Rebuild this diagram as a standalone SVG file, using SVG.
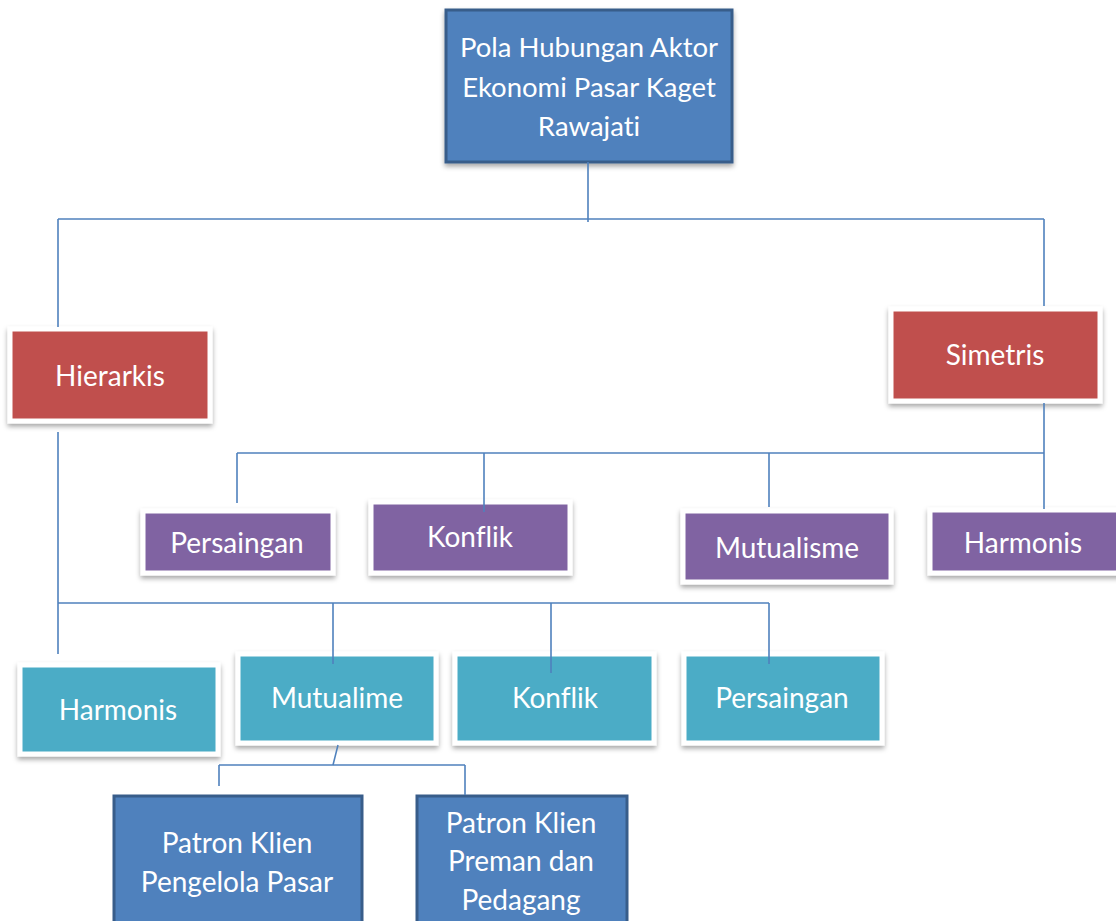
<svg xmlns="http://www.w3.org/2000/svg" width="1116" height="921" viewBox="0 0 1116 921">
  <defs>
    <filter id="shadow" x="-10%" y="-10%" width="130%" height="140%">
      <feDropShadow dx="0" dy="3" stdDeviation="2.5" flood-color="#000" flood-opacity="0.35"/>
    </filter>
    <style>
      .lbl { font-family: Lato, "Open Sans", "Liberation Sans", sans-serif; fill: #ffffff; text-anchor: middle; font-variant-ligatures: none; }
      .big { font-size: 27.5px; }
      .mid { font-size: 28px; }
      .dark { fill: #4f81bd; stroke: #385d8a; stroke-width: 3; }
      .red { fill: #c0504d; stroke: #ffffff; stroke-width: 5; filter: url(#shadow); }
      .purple { fill: #8064a2; stroke: #ffffff; stroke-width: 5; filter: url(#shadow); }
      .teal { fill: #4bacc6; stroke: #ffffff; stroke-width: 5; filter: url(#shadow); }
      .conn { fill: none; stroke: #4f81bd; stroke-width: 1.6; }
    </style>
  </defs>
  <rect width="1116" height="921" fill="#ffffff"/>

  <!-- root -->
  <g id="root">
    <rect class="dark" x="446" y="10" width="286" height="152" filter="url(#shadow)"/>
    <text class="lbl big" x="589" y="57">Pola Hubungan Aktor</text>
    <text class="lbl big" x="589" y="97">Ekonomi Pasar Kaget</text>
    <text class="lbl big" x="589" y="136">Rawajati</text>
  </g>

  <!-- second level -->
  <g id="hierarkis">
    <rect class="red" x="10" y="329" width="200" height="92"/>
    <text class="lbl mid" x="110" y="386">Hierarkis</text>
  </g>
  <g id="simetris">
    <rect class="red" x="891" y="309" width="209" height="92"/>
    <text class="lbl mid" x="995" y="365">Simetris</text>
  </g>

  <!-- symmetric relations -->
  <g id="sim-persaingan">
    <rect class="purple" x="143" y="511" width="190" height="62"/>
    <text class="lbl mid" x="237" y="553">Persaingan</text>
  </g>
  <g id="sim-konflik">
    <rect class="purple" x="371" y="502" width="199" height="71"/>
    <text class="lbl mid" x="470" y="547">Konflik</text>
  </g>
  <g id="sim-mutualisme">
    <rect class="purple" x="683" y="511" width="208" height="71"/>
    <text class="lbl mid" x="787" y="558">Mutualisme</text>
  </g>
  <g id="sim-harmonis">
    <rect class="purple" x="930" y="510" width="200" height="63"/>
    <text class="lbl mid" x="1023" y="553">Harmonis</text>
  </g>

  <!-- hierarchical relations -->
  <g id="hie-harmonis">
    <rect class="teal" x="20" y="665" width="198" height="89"/>
    <text class="lbl mid" x="118" y="720">Harmonis</text>
  </g>
  <g id="hie-mutualime">
    <rect class="teal" x="238" y="654" width="198" height="89"/>
    <text class="lbl mid" x="337" y="708">Mutualime</text>
  </g>
  <g id="hie-konflik">
    <rect class="teal" x="455" y="654" width="199" height="89"/>
    <text class="lbl mid" x="555" y="708">Konflik</text>
  </g>
  <g id="hie-persaingan">
    <rect class="teal" x="684" y="654" width="198" height="89"/>
    <text class="lbl mid" x="782" y="708">Persaingan</text>
  </g>

  <!-- patron-client forms -->
  <g id="patron-pengelola">
    <rect class="dark" x="114" y="796" width="248" height="140"/>
    <text class="lbl mid" x="237" y="853">Patron Klien</text>
    <text class="lbl mid" x="237" y="892">Pengelola Pasar</text>
  </g>
  <g id="patron-preman">
    <rect class="dark" x="417" y="796" width="210" height="140"/>
    <text class="lbl mid" x="521" y="833">Patron Klien</text>
    <text class="lbl mid" x="521" y="871">Preman dan</text>
    <text class="lbl mid" x="521" y="910">Pedagang</text>
  </g>

  <!-- connectors -->
  <g id="connectors" class="conn">
    <path d="M588 162 V222"/>
    <path d="M58 219 H1044"/>
    <path d="M58 219 V327"/>
    <path d="M1044 219 V306"/>
    <path d="M1044 403 V509"/>
    <path d="M237 453 H1044"/>
    <path d="M237 453 V503"/>
    <path d="M484 453 V512"/>
    <path d="M769 453 V507"/>
    <path d="M58 432 V654"/>
    <path d="M58 603 H769"/>
    <path d="M333 603 V664"/>
    <path d="M551 603 V673"/>
    <path d="M769 603 V664"/>
    <path d="M338 745 L333 765"/>
    <path d="M219 765 H465"/>
    <path d="M219 765 V786"/>
    <path d="M465 765 V795"/>
  </g>
</svg>
